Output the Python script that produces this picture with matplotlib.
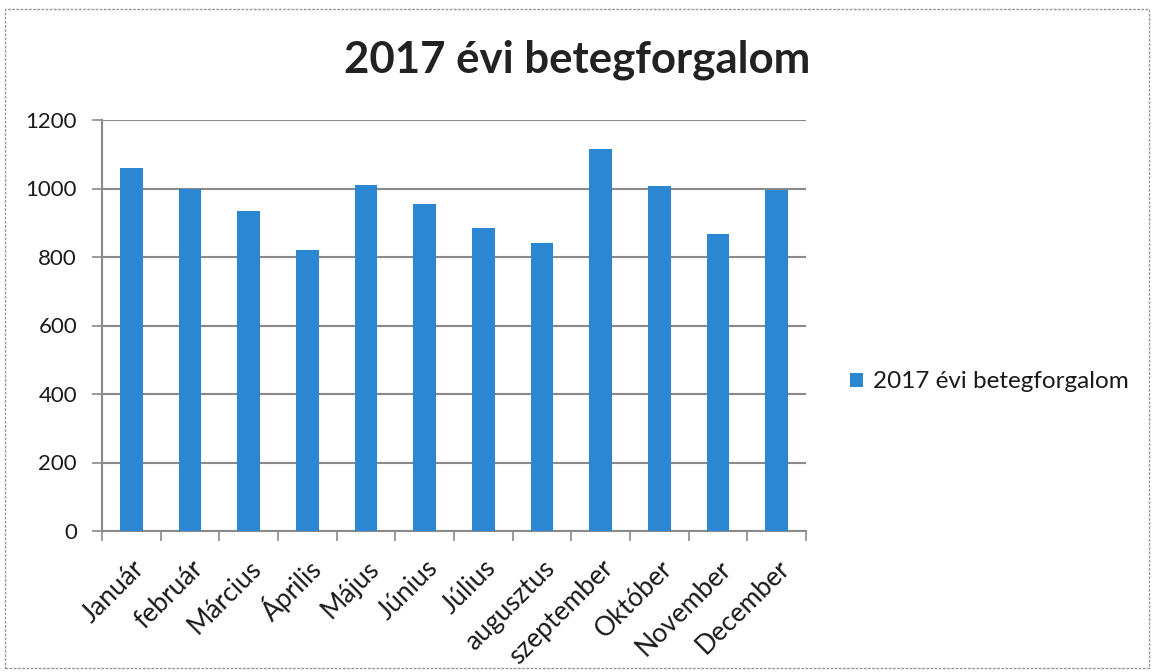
import matplotlib.pyplot as plt
import matplotlib.transforms as mtransforms
import numpy as np
from matplotlib.patches import Rectangle

months = ['Január', 'február', 'Március', 'Április', 'Május', 'Június',
          'Július', 'augusztus', 'szeptember', 'Október', 'November', 'December']
visits = [1059, 1000, 935, 820, 1010, 955, 884, 842, 1114, 1007, 866, 995]
series_name = '2017 évi betegforgalom'
yticks = [0, 200, 400, 600, 800, 1000, 1200]

plt.rcParams['font.family'] = ['Lato', 'DejaVu Sans']

W, H = 1153, 672
fig = plt.figure(figsize=(W / 100, H / 100), dpi=100)
# axes box: x 102..806 px, y 120..531 px
ax = fig.add_axes([102 / W, 1 - 531 / H, 704 / W, 411 / H])

x = np.arange(len(months))
bars = ax.bar(x, visits, width=0.39, color='#2b87d1', zorder=3, label=series_name)

ax.set_ylim(0, 1200)
ax.set_xlim(-0.5, len(months) - 0.5)
ax.set_yticks(yticks)
ax.yaxis.grid(True, color='#8a8a8a', linewidth=1.5, zorder=0)
ax.tick_params(axis='y', labelsize=16, length=7, color='#8a8a8a', width=1.2, pad=11,
               labelcolor='#1a1a1a')

# category labels at bar centres, tick marks at category borders
ax.set_xticks(x)
ax.set_xticklabels(months, rotation=45, ha='right', va='center', rotation_mode='anchor',
                   fontsize=19, color='#1a1a1a')
ax.tick_params(axis='x', which='major', length=0, pad=24)
shift = mtransforms.ScaledTranslation(0.09, 0, fig.dpi_scale_trans)
for lab in ax.get_xticklabels():
    lab.set_transform(lab.get_transform() + shift)
ax.set_xticks(np.arange(-0.5, len(months), 1), minor=True)
ax.tick_params(axis='x', which='minor', length=7, color='#8a8a8a', width=1.2)

for s in ['top', 'right']:
    ax.spines[s].set_visible(False)
for s in ['left', 'bottom']:
    ax.spines[s].set_color('#8a8a8a')
    ax.spines[s].set_linewidth(1.5)

fig.text(577 / W, 1 - 60 / H, series_name, ha='center', va='center', fontsize=31.5,
         fontweight='bold', color='#222222')

fig.legend(handles=[bars], loc='center left', bbox_to_anchor=(828 / W, 1 - 382 / H), frameon=False,
           fontsize=17.5, handlelength=0.55, handleheight=0.55, handletextpad=0.4,
           labelcolor='#1a1a1a')

fig.patches.append(Rectangle((5 / W, 1 - 668 / H), 1144 / W, 659 / H, transform=fig.transFigure,
                             fill=False, edgecolor='#9a9a9a', linewidth=1, linestyle=(0, (2, 1))))

plt.savefig('out.png', dpi=100)
